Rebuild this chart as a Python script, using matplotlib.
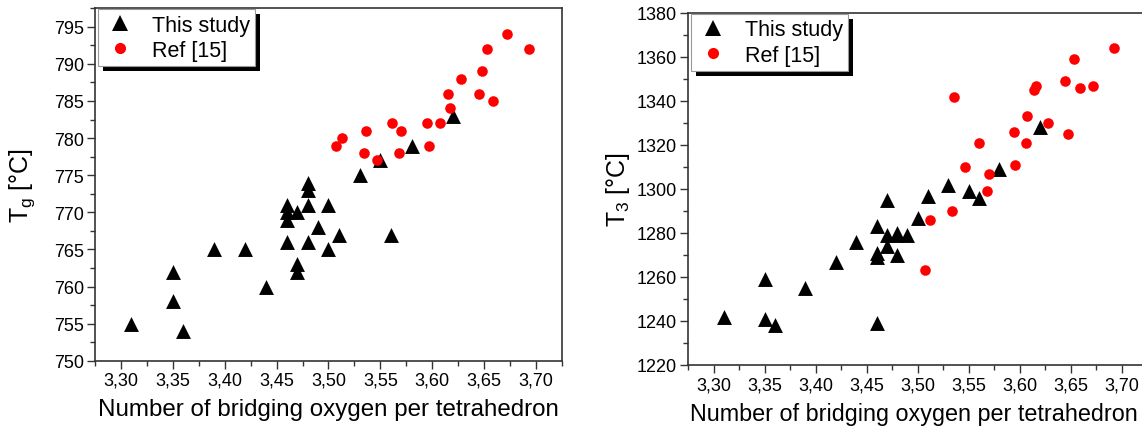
import matplotlib
matplotlib.use('Agg')
import matplotlib.pyplot as plt
from matplotlib.ticker import MultipleLocator, FuncFormatter
from matplotlib.patches import Rectangle
from matplotlib.lines import Line2D

plt.rcParams['font.family'] = ['Liberation Sans', 'DejaVu Sans']
plt.rcParams['mathtext.fontset'] = 'custom'
plt.rcParams['mathtext.rm'] = 'Liberation Sans'

# ---- data ----
study_x_g = [3.31, 3.35, 3.35, 3.36, 3.39, 3.42, 3.44, 3.46, 3.46, 3.46, 3.46, 3.47, 3.47, 3.47,
             3.48, 3.48, 3.48, 3.48, 3.49, 3.50, 3.50, 3.51, 3.53, 3.55, 3.56, 3.58, 3.62]
study_tg = [755, 762, 758, 754, 765, 765, 760, 771, 770, 769, 766, 770, 763, 762,
            774, 773, 771, 766, 768, 771, 765, 767, 775, 777, 767, 779, 783]
ref_x_g = [3.507, 3.513, 3.536, 3.534, 3.547, 3.561, 3.570, 3.568, 3.595, 3.607,
           3.597, 3.615, 3.617, 3.628, 3.645, 3.648, 3.659, 3.653, 3.672, 3.693]
ref_tg = [779, 780, 781, 778, 777, 782, 781, 778, 782, 782,
          779, 786, 784, 788, 786, 789, 785, 792, 794, 792]

study_x_3 = [3.31, 3.35, 3.35, 3.36, 3.39, 3.42, 3.44, 3.46, 3.46, 3.46, 3.46, 3.47, 3.47, 3.47,
             3.48, 3.48, 3.48, 3.49, 3.50, 3.51, 3.53, 3.55, 3.56, 3.58, 3.62]
study_t3 = [1242, 1259, 1241, 1238, 1255, 1267, 1276, 1283, 1271, 1269, 1239, 1295, 1279, 1274,
            1280, 1279, 1270, 1279, 1287, 1297, 1302, 1299, 1296, 1309, 1328]
ref_x_3 = [3.512, 3.507, 3.534, 3.568, 3.570, 3.547, 3.560, 3.536, 3.596, 3.595, 3.606,
           3.607, 3.628, 3.648, 3.614, 3.616, 3.645, 3.659, 3.672, 3.653, 3.693]
ref_t3 = [1286, 1263, 1290, 1299, 1307, 1310, 1321, 1342, 1311, 1326, 1321,
          1333, 1330, 1325, 1345, 1347, 1349, 1346, 1347, 1359, 1364]

x_ticks = [3.30, 3.35, 3.40, 3.45, 3.50, 3.55, 3.60, 3.65, 3.70]
tg_ticks = [750, 755, 760, 765, 770, 775, 780, 785, 790, 795]
t3_ticks = [1220, 1240, 1260, 1280, 1300, 1320, 1340, 1360, 1380]

labels = ['This study', 'Ref [15]']
x_label = 'Number of bridging oxygen per tetrahedron'

fig = plt.figure(figsize=(11.42, 4.27), dpi=100)
ax1 = fig.add_axes([0.0832, 0.1529, 0.4089, 0.8255])
ax2 = fig.add_axes([0.6025, 0.1429, 0.4019, 0.8244])

comma = FuncFormatter(lambda v, p: f'{v:.2f}'.replace('.', ','))


def style(ax, sx, sy, rx, ry, yticks, yminor, ylim, ylabel, ylab_x, xlab_x, xlab_fs):
    ax.scatter(sx, sy, marker='^', s=115, c='k', linewidths=0, zorder=3)
    ax.scatter(rx, ry, marker='o', s=58, c='#ff0000', linewidths=0, zorder=4)
    ax.set_xlim(3.275, 3.725)
    ax.set_ylim(*ylim)
    ax.set_xticks(x_ticks)
    ax.xaxis.set_major_formatter(comma)
    ax.xaxis.set_minor_locator(MultipleLocator(0.025))
    ax.set_yticks(yticks)
    ax.yaxis.set_minor_locator(MultipleLocator(yminor))
    ax.tick_params(which='both', direction='out', top=False, right=False,
                   width=1.0, color='#333333')
    ax.tick_params(which='major', length=6, labelsize=13, pad=2)
    ax.tick_params(which='minor', length=3.5)
    for sp in ax.spines.values():
        sp.set_linewidth(1.2)
        sp.set_color('#333333')
    ax.set_xlabel(x_label, fontsize=xlab_fs)
    ax.xaxis.set_label_coords(xlab_x, -0.105)
    ax.set_ylabel(ylabel, fontsize=18)
    ax.yaxis.set_label_coords(ylab_x, 0.5)
    handles = [Line2D([], [], ls='none', marker='^', ms=11, color='k', mew=0),
               Line2D([], [], ls='none', marker='o', ms=8, color='#ff0000', mew=0)]
    leg = ax.legend(handles, labels, loc='upper left', bbox_to_anchor=(0.006, 0.997),
                    borderaxespad=0, fontsize=15.5, borderpad=0.25, handlelength=1.6,
                    handletextpad=0.65, labelspacing=0.2, fancybox=False,
                    framealpha=1, edgecolor='#999999')
    leg.get_frame().set_linewidth(0.8)
    return leg


leg1 = style(ax1, study_x_g, study_tg, ref_x_g, ref_tg, tg_ticks, 2.5, (750, 797.5),
             r'$\mathregular{T_g}$ [°C]', -0.125, 0.5, 17.4)
leg2 = style(ax2, study_x_3, study_t3, ref_x_3, ref_t3, t3_ticks, 10, (1220, 1380),
             r'$\mathregular{T_3}$ [°C]', -0.122, 0.493, 16.8)

fig.canvas.draw()
renderer = fig.canvas.get_renderer()
inv = fig.transFigure.inverted()
for ax, leg in ((ax1, leg1), (ax2, leg2)):
    bb = leg.get_frame().get_window_extent(renderer)
    (x0, y0) = inv.transform((bb.x0 + 5, bb.y0 - 5))
    (x1, y1) = inv.transform((bb.x1 + 5, bb.y1 - 5))
    rect = Rectangle((x0, y0), x1 - x0, y1 - y0, transform=fig.transFigure,
                     facecolor='k', edgecolor='none', zorder=4.9, clip_on=False)
    ax.add_artist(rect)

fig.savefig('out.png', dpi=100)
